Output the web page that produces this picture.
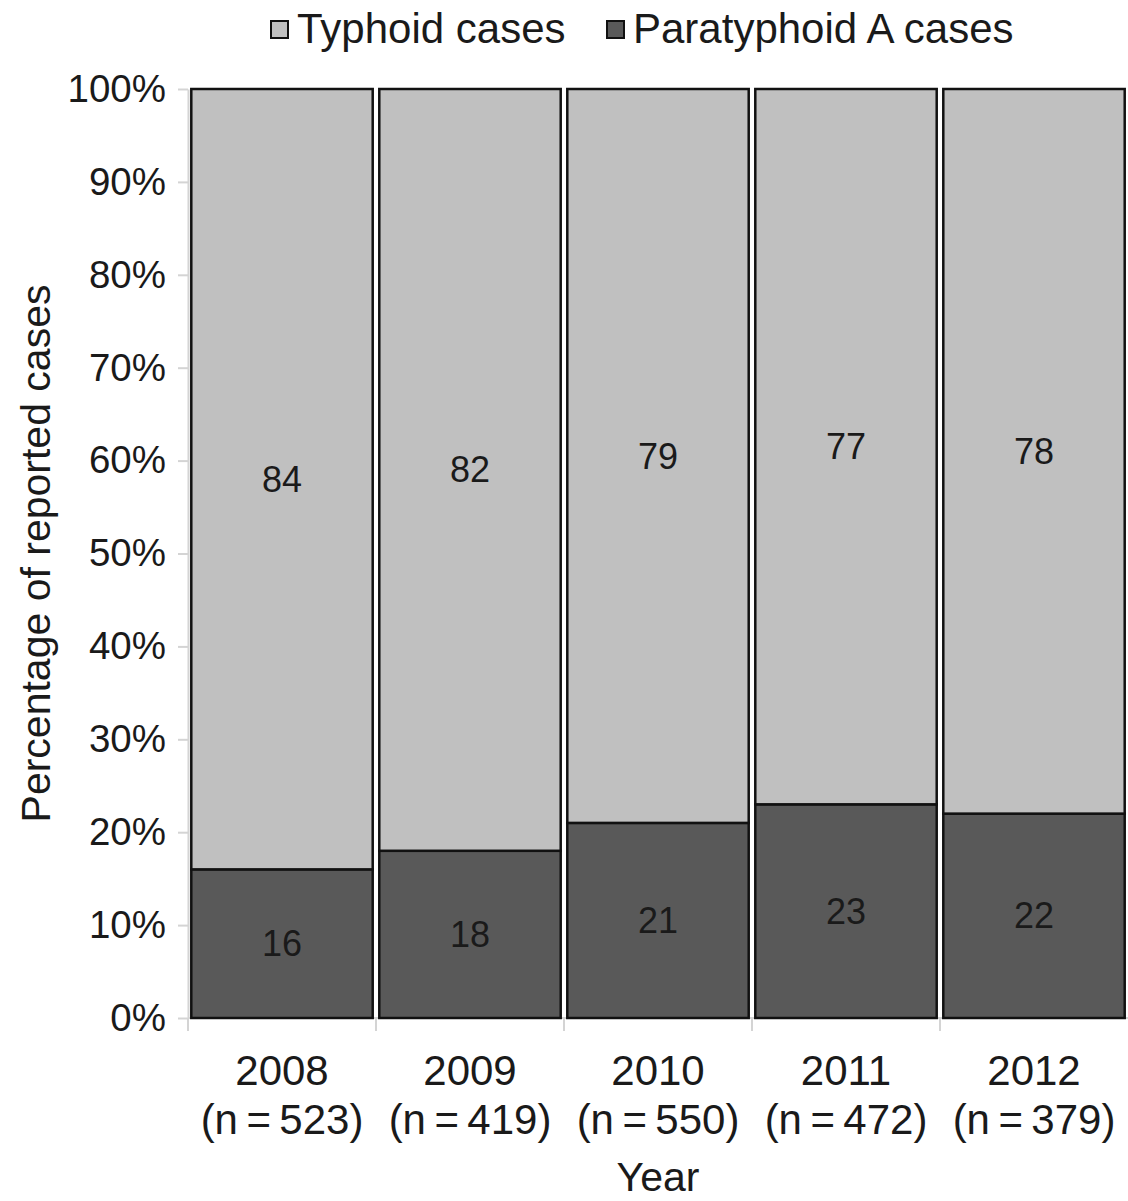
<!DOCTYPE html>
<html>
<head>
<meta charset="utf-8">
<script src="https://cdn.jsdelivr.net/npm/d3@7"></script>
<style>
  body { margin: 0; background: #fff; }
  svg { display: block; font-family: "Liberation Sans", Arial, sans-serif; }
  .axis path, .axis line { stroke: #d4d4d4; stroke-width: 2; }
</style>
</head>
<body>
<div id="chart"></div>
<script>
const width = 1128;
const height = 1201;
const margin = { top: 89, right: 0, bottom: 182, left: 188 };

// data
const years = ["2008", "2009", "2010", "2011", "2012"];
const nCases = [523, 419, 550, 472, 379];
const typhoidPct = [84, 82, 79, 77, 78];
const paratyphoidPct = [16, 18, 21, 23, 22];
const yTicks = [0, 10, 20, 30, 40, 50, 60, 70, 80, 90, 100];

const series = [
  ["paratyphoid", "Paratyphoid A cases", "#595959"],
  ["typhoid", "Typhoid cases", "#c0c0c0"],
];

const rows = years.map(function (y, i) {
  return { year: y, n: nCases[i], typhoid: typhoidPct[i], paratyphoid: paratyphoidPct[i] };
});

const svg = d3
  .select("#chart")
  .append("svg")
  .attr("width", width)
  .attr("height", height);

const x = d3
  .scaleBand()
  .domain(years)
  .range([margin.left, width - margin.right])
  .paddingInner(0.035)
  .paddingOuter(0.0175);

const y = d3
  .scaleLinear()
  .domain([0, 100])
  .range([height - margin.bottom - 1, margin.top]);

// y axis
const yAxis = d3
  .axisLeft(y)
  .tickValues(yTicks)
  .tickFormat(function (d) { return d + "%"; })
  .tickSizeInner(10)
  .tickSizeOuter(0)
  .tickPadding(12);

const gy = svg
  .append("g")
  .attr("class", "axis")
  .attr("transform", "translate(" + margin.left + ",0)")
  .call(yAxis);
gy.selectAll("text")
  .attr("font-size", 38.5)
  .attr("fill", "#1a1a1a")
  .attr("font-family", "Liberation Sans, Arial, sans-serif");

// x axis: baseline plus ticks between categories
const y0 = y(0);
svg
  .append("line")
  .attr("x1", margin.left)
  .attr("x2", width)
  .attr("y1", y0)
  .attr("y2", y0)
  .attr("stroke", "#d4d4d4")
  .attr("stroke-width", 2);

const boundaries = years.map(function (d) {
  return x(d) - (x.step() * x.paddingInner()) / 2;
});
svg
  .append("g")
  .selectAll("line")
  .data(boundaries)
  .enter()
  .append("line")
  .attr("x1", function (d) { return d; })
  .attr("x2", function (d) { return d; })
  .attr("y1", y0)
  .attr("y2", y0 + 13)
  .attr("stroke", "#d4d4d4")
  .attr("stroke-width", 2);

// stacked bars
const stack = d3.stack().keys(series.map(function (s) { return s[0]; }));
const stacked = stack(rows);

const groups = svg
  .selectAll("g.series")
  .data(stacked)
  .enter()
  .append("g")
  .attr("class", "series")
  .attr("fill", function (d, i) { return series[i][2]; });

groups
  .selectAll("rect")
  .data(function (d) { return d; })
  .enter()
  .append("rect")
  .attr("x", function (d) { return x(d.data.year); })
  .attr("y", function (d) { return y(d[1]); })
  .attr("width", x.bandwidth())
  .attr("height", function (d) { return y(d[0]) - y(d[1]); })
  .attr("stroke", "#111")
  .attr("stroke-width", 2.5);

// value labels
groups
  .selectAll("text")
  .data(function (d) { return d; })
  .enter()
  .append("text")
  .attr("x", function (d) { return x(d.data.year) + x.bandwidth() / 2; })
  .attr("y", function (d) { return (y(d[0]) + y(d[1])) / 2; })
  .attr("dy", "0.35em")
  .attr("text-anchor", "middle")
  .attr("font-size", 36)
  .attr("fill", "#1a1a1a")
  .text(function (d) { return d[1] - d[0]; });

// category labels
const cat = svg
  .append("g")
  .selectAll("text")
  .data(rows)
  .enter()
  .append("text")
  .attr("text-anchor", "middle")
  .attr("font-size", 42)
  .attr("fill", "#1a1a1a");
cat
  .append("tspan")
  .attr("x", function (d) { return x(d.year) + x.bandwidth() / 2; })
  .attr("y", 1085)
  .text(function (d) { return d.year; });
cat
  .append("tspan")
  .attr("x", function (d) { return x(d.year) + x.bandwidth() / 2; })
  .attr("y", 1134)
  .text(function (d) { return "(n\u2009=\u2009" + d.n + ")"; });

// axis titles
svg
  .append("text")
  .attr("x", (margin.left + width) / 2)
  .attr("y", 1191)
  .attr("text-anchor", "middle")
  .attr("font-size", 41)
  .attr("fill", "#1a1a1a")
  .text("Year");

svg
  .append("text")
  .attr("transform", "translate(50," + (y(0) + y(100)) / 2 + ") rotate(-90)")
  .attr("text-anchor", "middle")
  .attr("font-size", 41)
  .attr("fill", "#1a1a1a")
  .text("Percentage of reported cases");

// legend
const legendItems = [series[1], series[0]];
const legendX = [270, 606];
const legend = svg
  .append("g")
  .selectAll("g")
  .data(legendItems)
  .enter()
  .append("g")
  .attr("transform", function (d, i) { return "translate(" + legendX[i] + ",0)"; });
legend
  .append("rect")
  .attr("x", 1)
  .attr("y", 21)
  .attr("width", 17)
  .attr("height", 17)
  .attr("fill", function (d) { return d[2]; })
  .attr("stroke", "#111")
  .attr("stroke-width", 2);
legend
  .append("text")
  .attr("x", 27)
  .attr("y", 43)
  .attr("font-size", 42)
  .attr("fill", "#1a1a1a")
  .text(function (d) { return d[1]; });
</script>
</body>
</html>
